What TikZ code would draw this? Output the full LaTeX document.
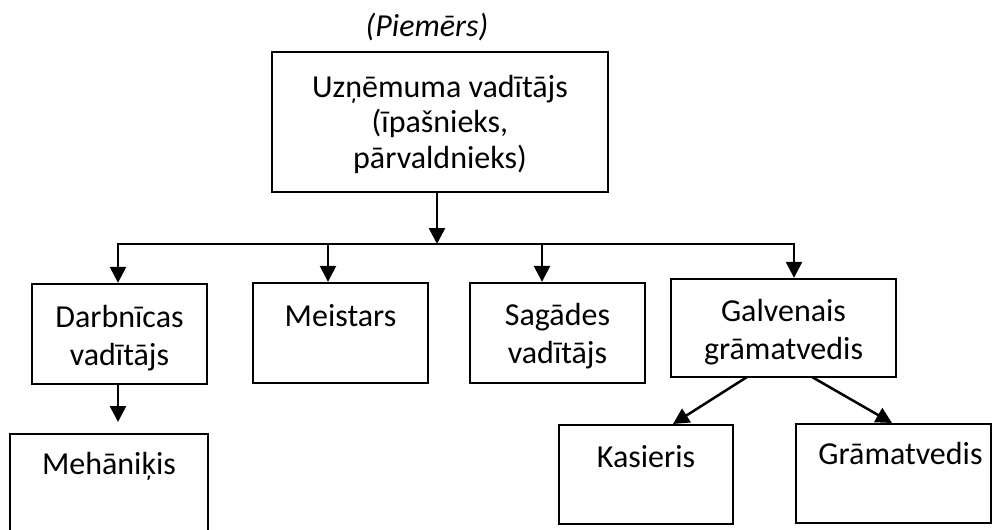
\documentclass[tikz,border=0pt]{standalone}
\usepackage{fontspec}
\setmainfont{Carlito}
\usetikzlibrary{arrows.meta}
\begin{document}
\begin{tikzpicture}[x=1pt,y=-1pt,
  box/.style={draw, line width=2.3pt, rectangle, inner sep=0pt},
  lbl/.style={inner sep=0pt, anchor=base, align=center, font=\fontsize{32}{38}\selectfont},
  arr/.style={line width=2.5pt, -{Triangle[width=16pt,length=16pt]}},
  conn/.style={line width=2.5pt}]
\useasboundingbox (0,0) rectangle (996,530);
\clip (0,0) rectangle (996,530);
% title
\node[lbl, font=\fontsize{32}{38}\selectfont\itshape] (title) at (427,36) {(Piemērs)};
% boxes
\node[box, minimum width=336pt, minimum height=140pt] (top) at (440,122) {};
\node[box, minimum width=175pt, minimum height=100pt] (darb) at (119.5,334) {};
\node[box, minimum width=175pt, minimum height=100pt] (meis) at (340.5,333) {};
\node[box, minimum width=175pt, minimum height=100pt] (sag) at (557.5,333) {};
\node[box, minimum width=225pt, minimum height=98pt] (galv) at (783.5,328) {};
\node[box, minimum width=198pt, minimum height=100pt] (meh) at (109,484) {};
\node[box, minimum width=174pt, minimum height=99pt] (kas) at (646,474.5) {};
\node[box, minimum width=195pt, minimum height=99pt] (gram) at (893.5,473.5) {};
% texts (base anchor = baseline of the last line)
\node[lbl, font=\fontsize{32}{35.5}\selectfont] (ttop) at (440,168) {Uzņēmuma vadītājs\\(īpašnieks,\\pārvaldnieks)};
\node[lbl] (tdarb) at (119.5,365) {Darbnīcas\\vadītājs};
\node[lbl] (tmeis) at (340.5,326) {Meistars};
\node[lbl] (tsag) at (557.5,363) {Sagādes\\vadītājs};
\node[lbl] (tgalv) at (783.5,359) {Galvenais\\grāmatvedis};
\node[lbl] (tmeh) at (109,474) {Mehāniķis};
\node[lbl] (tkas) at (646,467) {Kasieris};
\node[lbl] (tgram) at (900.5,464) {Grāmatvedis};
% bus coordinates
\coordinate (b0) at (437,244);
\coordinate (b1) at (118,244);
\coordinate (b2) at (328,244);
\coordinate (b3) at (542,244);
\coordinate (b4) at (794,244);
% connectors
\draw[arr] ([xshift=-3pt]top.south) -- (b0);
\draw[conn, line cap=rect] (b1) -- (b4);
\draw[arr] (b1) -- (b1 |- darb.north);
\draw[arr] (b2) -- (b2 |- meis.north);
\draw[arr] (b3) -- (b3 |- sag.north);
\draw[arr] (b4) -- (b4 |- galv.north);
\coordinate (d1) at (118,384);
\coordinate (d2) at (118,422);
\draw[arr] (d1) -- (d2);
\coordinate (g1) at (747,377);
\coordinate (g2) at (673,424);
\coordinate (g3) at (812,377);
\coordinate (g4) at (892,423);
\draw[arr] (g1) -- (g2);
\draw[arr] (g3) -- (g4);
\end{tikzpicture}
\end{document}
